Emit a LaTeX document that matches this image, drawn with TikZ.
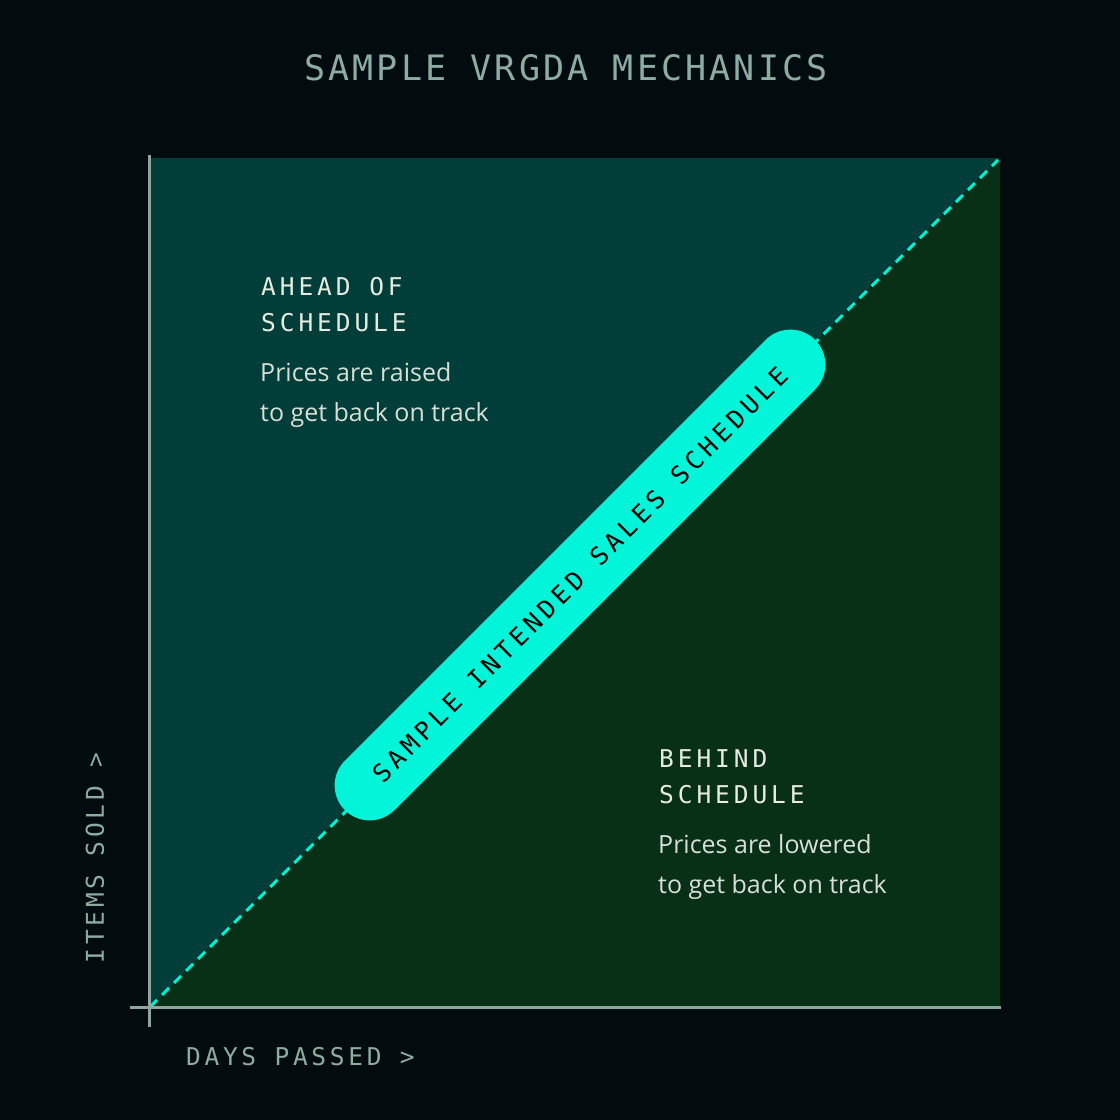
\documentclass[tikz,border=0pt]{standalone}
\usepackage{fontspec}
\setmainfont{Open Sans}
\newfontfamily\monofont{DejaVu Sans Mono}
\definecolor{bgc}{RGB}{2,11,14}
\definecolor{aheadc}{RGB}{1,61,57}
\definecolor{behindc}{RGB}{7,48,22}
\definecolor{axisc}{RGB}{143,165,159}
\definecolor{titlec}{RGB}{140,172,164}
\definecolor{headc}{RGB}{230,236,224}
\definecolor{bodyc}{RGB}{216,224,214}
\definecolor{cyanc}{RGB}{0,240,212}
\definecolor{pillc}{RGB}{2,245,216}
\tikzset{
  headtext/.style={inner sep=0pt, anchor=north west, align=left, text=headc,
    font=\monofont\addfontfeature{LetterSpace=16}\fontsize{24.5}{36}\selectfont},
  bodytext/.style={inner sep=0pt, anchor=north west, align=left, text=bodyc,
    font=\fontsize{25}{40}\selectfont},
  axislabel/.style={inner sep=0pt, text=titlec,
    font=\monofont\addfontfeature{LetterSpace=15}\fontsize{24.5}{30}\selectfont},
  axisline/.style={draw=axisc, line width=3pt},
}
\begin{document}
\begin{tikzpicture}[x=1pt,y=-1pt]
\fill[bgc] (0,0) rectangle (1120,1120);
\useasboundingbox (0,0) rectangle (1120,1120);
% regions
\fill[aheadc] (150,1007) -- (150,158) -- (1000,158) -- cycle;
\fill[behindc] (150,1007) -- (1000,158) -- (1000,1007) -- cycle;
% diagonal
\coordinate (o) at (150,1007);
\coordinate (tr) at (998,160);
\draw[cyanc, line width=3pt, dash pattern=on 10pt off 7pt] (o) -- (tr);
% axes
\coordinate (ytop) at (149,155);
\coordinate (ybot) at (149,1027);
\coordinate (xl) at (130,1007);
\coordinate (xr) at (1001,1007);
\draw[axisline] (ytop) -- (ybot);
\draw[axisline] (xl) -- (xr);
% title
\node[inner sep=0pt, text=titlec, font=\monofont\addfontfeature{LetterSpace=9}\fontsize{35}{40}\selectfont] (title) at (566,68) {SAMPLE VRGDA MECHANICS};
% ahead
\node[headtext] (ahead) at (261,277) {AHEAD OF\\SCHEDULE};
\node[bodytext] (aheadtxt) at (260,362) {Prices are raised\\to get back on track};
% behind
\node[headtext] (behind) at (659,749) {BEHIND\\SCHEDULE};
\node[bodytext] (behindtxt) at (658,834) {Prices are lowered\\to get back on track};
% pill
\node[rotate=45, fill=pillc, rounded corners=35pt, minimum width=665pt, minimum height=70pt, inner sep=0pt, text=black,
  font=\monofont\addfontfeature{LetterSpace=19}\fontsize{25}{30}\selectfont] (pill) at (580,575) {SAMPLE INTENDED SALES SCHEDULE};
% axis labels
\node[axislabel, rotate=90] (ylab) at (95,858) {ITEMS SOLD >};
\node[axislabel, anchor=west] (xlab) at (186,1057) {DAYS PASSED >};
\end{tikzpicture}
\end{document}
